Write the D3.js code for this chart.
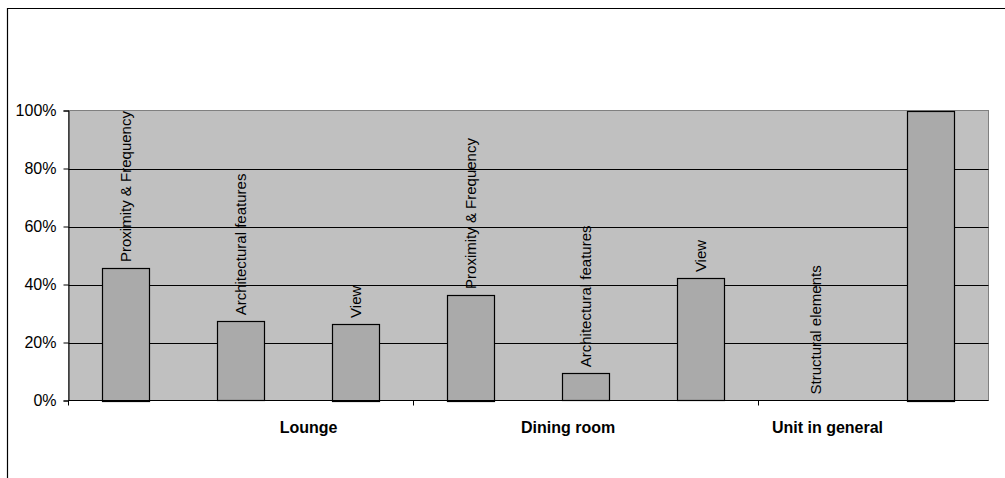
<!DOCTYPE html>
<html><head><meta charset="utf-8">
<script src="https://cdn.jsdelivr.net/npm/d3@7"></script>
<style>body{margin:0;background:#fff}svg{display:block}</style>
</head><body><svg id="c" width="1005" height="478"></svg>
<script>
const barLabels = ["Proximity & Frequency","Architectural features","View","Proximity & Frequency","Architectural features","View","Structural elements",""];
const values = [45.7, 27.3, 26.4, 36.4, 9.4, 42.2, 0, 100];
const groups = ["Lounge","Dining room","Unit in general"];
const groupTickSlots = [0, 3, 6];
const yTicks = [0, 20, 40, 60, 80, 100];

const svg = d3.select("#c");
const L = 68.5, R = 988.5, T = 110.5, B = 400.5;
const font = "Liberation Sans, Arial, sans-serif";

// outer frame (cropped)
svg.append("path").attr("d", `M7.5,478 V8.5 H1005`).attr("fill","none").attr("stroke","#000").attr("stroke-width",1.2);

const x = d3.scaleBand().domain(d3.range(values.length)).range([L, R]).paddingInner(0.59).paddingOuter(0.295);
const y = d3.scaleLinear().domain([0, 100]).range([B, T]);

svg.append("rect").attr("x", L).attr("y", T).attr("width", R - L).attr("height", B - T)
  .attr("fill", "#c0c0c0").attr("stroke", "#808080");

// gridlines
svg.append("g").selectAll("line").data(yTicks.filter(d => d > 0 && d < 100)).join("line")
  .attr("x1", L).attr("x2", R).attr("y1", d => Math.round(y(d)) + 0.5).attr("y2", d => Math.round(y(d)) + 0.5)
  .attr("stroke", "#000");

// bars
svg.append("g").selectAll("rect").data(values).join("rect")
  .attr("x", (d, i) => Math.round(x(i)) + 0.5)
  .attr("y", d => Math.round(y(d)) + 0.5)
  .attr("width", Math.round(x.bandwidth()))
  .attr("height", d => Math.round(B - y(d)))
  .attr("fill", "#aaaaaa").attr("stroke", "#000").attr("stroke-width", 1.2);

// bar labels (rotated)
svg.append("g").selectAll("text").data(values).join("text")
  .attr("transform", (d, i) => `translate(${x(i) + x.bandwidth() / 2},${y(d) - 6}) rotate(-90)`)
  .attr("dy", "0.33em")
  .attr("font-family", font).attr("font-size", 15).attr("fill", "#000")
  .text((d, i) => barLabels[i]);

// y axis
const yAxis = d3.axisLeft(y).tickValues(yTicks).tickFormat(d => d + "%").tickSize(5).tickPadding(7);
const gy = svg.append("g").attr("transform", `translate(${L},0)`).call(yAxis);
gy.select(".domain").attr("stroke", "#000");
gy.selectAll(".tick line").attr("stroke", "#000");
gy.selectAll(".tick text").attr("font-family", font).attr("font-size", 16).attr("fill", "#000");

// x axis line and group ticks
const slotW = (R - L) / values.length;
svg.append("line").attr("x1", L).attr("x2", R).attr("y1", B).attr("y2", B).attr("stroke", "#000");
svg.append("g").selectAll("line").data(groupTickSlots).join("line")
  .attr("x1", d => L + d * slotW).attr("x2", d => L + d * slotW)
  .attr("y1", B).attr("y2", B + 5).attr("stroke", "#000");

// group labels
const gx = d3.scalePoint().domain(groups).range([L + (R - L) * 0.261, L + (R - L) * 0.825]);
svg.append("g").selectAll("text").data(groups).join("text")
  .attr("x", d => gx(d)).attr("y", 433)
  .attr("text-anchor", "middle")
  .attr("font-family", font).attr("font-size", 16).attr("font-weight", "bold").attr("fill", "#000")
  .text(d => d);
</script></body></html>
